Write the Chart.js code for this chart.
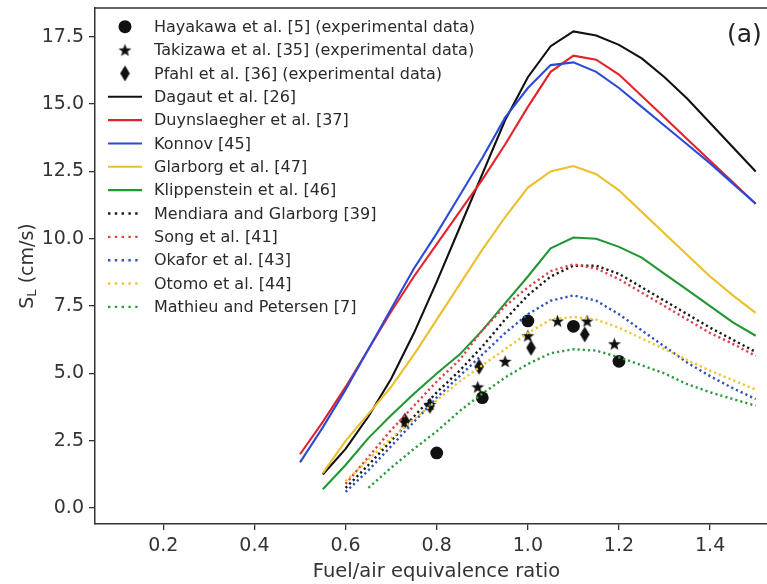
<!DOCTYPE html>
<html>
<head>
<meta charset="utf-8">
<script src="https://cdn.jsdelivr.net/npm/chart.js@4/dist/chart.umd.min.js"></script>
<style>
  html, body { margin: 0; padding: 0; background: #fff; overflow: hidden; width: 767px; height: 584px; }
  #wrap { width: 786px; height: 584px; }
  canvas { display: block; }
</style>
</head>
<body>
<div id="wrap"><canvas id="chart" width="786" height="584"></canvas></div>
<script>
// equivalence ratio grid for the model curves
var phi = [0.5, 0.55, 0.6, 0.65, 0.7, 0.75, 0.8, 0.85, 0.9, 0.95, 1.0, 1.05, 1.1, 1.15, 1.2, 1.25, 1.3, 1.35, 1.4, 1.45, 1.5];

// solid model curves (S_L in cm/s)
var dagaut      = [null, 1.25, 2.2, 3.4, 4.8, 6.5, 8.4, 10.4, 12.4, 14.4, 16.0, 17.15, 17.7, 17.55, 17.2, 16.7, 16.0, 15.2, 14.3, 13.4, 12.5];
var duynslaegher = [2.0, 3.2, 4.5, 5.9, 7.3, 8.6, 9.8, 11.0, 12.2, 13.5, 14.9, 16.2, 16.8, 16.65, 16.1, 15.3, 14.5, 13.7, 12.9, 12.1, 11.3];
var konnov      = [1.7, 3.0, 4.4, 5.9, 7.4, 8.9, 10.2, 11.6, 13.0, 14.5, 15.6, 16.45, 16.55, 16.2, 15.6, 14.9, 14.2, 13.5, 12.8, 12.05, 11.3];
var glarborg    = [null, 1.3, 2.5, 3.5, 4.5, 5.7, 7.0, 8.3, 9.6, 10.8, 11.9, 12.5, 12.7, 12.4, 11.8, 11.0, 10.2, 9.4, 8.6, 7.9, 7.25];
var klippenstein = [null, 0.7, 1.6, 2.6, 3.45, 4.25, 5.0, 5.7, 6.6, 7.6, 8.6, 9.65, 10.05, 10.0, 9.7, 9.3, 8.7, 8.1, 7.5, 6.9, 6.4];

// dotted model curves
var mendiara = [null, null, 0.75, 1.6, 2.5, 3.4, 4.3, 5.1, 6.0, 7.0, 7.9, 8.6, 9.0, 9.0, 8.7, 8.2, 7.7, 7.2, 6.7, 6.25, 5.8];
var song     = [null, null, 0.9, 1.9, 2.9, 3.8, 4.7, 5.5, 6.6, 7.5, 8.2, 8.8, 9.05, 8.9, 8.5, 8.0, 7.5, 7.0, 6.5, 6.1, 5.65];
var okafor   = [null, null, 0.6, 1.4, 2.3, 3.2, 4.1, 4.9, 5.7, 6.5, 7.2, 7.7, 7.9, 7.7, 7.2, 6.6, 6.0, 5.4, 4.9, 4.45, 4.05];
var otomo    = [null, null, 1.0, 1.8, 2.6, 3.3, 4.0, 4.7, 5.3, 5.9, 6.5, 7.0, 7.1, 7.0, 6.7, 6.3, 5.9, 5.5, 5.1, 4.75, 4.4];
var mathieu  = [null, null, null, 0.75, 1.5, 2.2, 2.85, 3.6, 4.25, 4.85, 5.35, 5.75, 5.9, 5.85, 5.6, 5.3, 5.0, 4.6, 4.3, 4.05, 3.8];

// experimental data
var hayakawaX = [0.8, 0.9, 1.0, 1.1, 1.2];
var hayakawaY = [2.05, 4.1, 6.95, 6.75, 5.45];
var takizawaX = [0.73, 0.785, 0.89, 0.95, 1.0, 1.065, 1.13, 1.19];
var takizawaY = [3.2, 3.85, 4.5, 5.45, 6.4, 6.95, 6.95, 6.1];
var pfahlX = [0.73, 0.785, 0.893, 1.007, 1.125];
var pfahlY = [3.25, 3.8, 5.25, 5.95, 6.45];

var xTicks = [0.2, 0.4, 0.6, 0.8, 1.0, 1.2, 1.4];
var yTicks = [0.0, 2.5, 5.0, 7.5, 10.0, 12.5, 15.0, 17.5];

function toPoints(xs, ys) {
    var out = [];
    for (var i = 0; i < xs.length; i++) {
        if (ys[i] !== null) out.push({x: xs[i], y: ys[i]});
    }
    return out;
}

// filled star and thin diamond markers (matplotlib '*' and 'd')
function makeStar() {
    var c = document.createElement('canvas');
    c.width = 15; c.height = 15;
    var g = c.getContext('2d');
    g.fillStyle = '#111';
    g.beginPath();
    for (var k = 0; k < 10; k++) {
        var r = (k % 2 === 0) ? 6.8 : 2.8;
        var a = -Math.PI / 2 + k * Math.PI / 5;
        var px = 7.5 + r * Math.cos(a), py = 8.1 + r * Math.sin(a);
        if (k === 0) g.moveTo(px, py); else g.lineTo(px, py);
    }
    g.closePath();
    g.fill();
    return c;
}
function makeDiamond() {
    var c = document.createElement('canvas');
    c.width = 11; c.height = 17;
    var g = c.getContext('2d');
    g.fillStyle = '#111';
    g.beginPath();
    g.moveTo(5.5, 0.5); g.lineTo(10.3, 8.5); g.lineTo(5.5, 16.5); g.lineTo(0.7, 8.5);
    g.closePath();
    g.fill();
    return c;
}
var starImg = makeStar();
var diamondImg = makeDiamond();

var DOT = [2.2, 3.0];

function lineSet(label, ys, color, dotted, order) {
    return {
        label: label,
        data: toPoints(phi, ys),
        showLine: true,
        borderColor: color,
        backgroundColor: color,
        borderWidth: dotted ? 2.4 : 2.1,
        borderDash: dotted ? DOT : [],
        pointRadius: 0,
        pointHoverRadius: 0,
        tension: 0,
        order: order,
        legendKind: dotted ? 'dot' : 'line'
    };
}
function markerSet(label, xs, ys, style, radius) {
    return {
        label: label,
        data: toPoints(xs, ys),
        showLine: false,
        pointStyle: style,
        pointRadius: radius,
        backgroundColor: '#111',
        borderColor: '#111',
        borderWidth: 0,
        order: 100,
        legendKind: 'marker'
    };
}

var datasets = [
    markerSet('Hayakawa et al. [5] (experimental data)', hayakawaX, hayakawaY, 'circle', 6.4),
    markerSet('Takizawa et al. [35] (experimental data)', takizawaX, takizawaY, starImg, 7),
    markerSet('Pfahl et al. [36] (experimental data)', pfahlX, pfahlY, diamondImg, 8),
    lineSet('Dagaut et al. [26]', dagaut, '#111111', false, 50),
    lineSet('Duynslaegher et al. [37]', duynslaegher, '#e4212c', false, 49),
    lineSet('Konnov [45]', konnov, '#2b4bd6', false, 48),
    lineSet('Glarborg et al. [47]', glarborg, '#ecbf2c', false, 47),
    lineSet('Klippenstein et al. [46]', klippenstein, '#239634', false, 46),
    lineSet('Mendiara and Glarborg [39]', mendiara, '#1a1a1a', true, 45),
    lineSet('Song et al. [41]', song, '#e0404a', true, 44),
    lineSet('Okafor et al. [43]', okafor, '#3050c0', true, 43),
    lineSet('Otomo et al. [44]', otomo, '#f0c430', true, 42),
    lineSet('Mathieu and Petersen [7]', mathieu, '#2e9a40', true, 41)
];

var FONT = '"DejaVu Sans", Verdana, sans-serif';

var decorPlugin = {
    id: 'decor',
    afterDraw: function (chart) {
        var ctx = chart.ctx;
        var a = chart.chartArea;
        ctx.save();
        // top and right frame
        ctx.strokeStyle = '#333';
        ctx.lineWidth = 1.5;
        ctx.beginPath();
        ctx.moveTo(a.left, a.top);
        ctx.lineTo(a.right, a.top);
        ctx.lineTo(a.right, a.bottom);
        ctx.stroke();

        // legend
        var ds = chart.data.datasets;
        var y0 = 26.7, dy = 23.35;
        for (var i = 0; i < ds.length; i++) {
            var d = ds[i];
            var y = y0 + i * dy;
            if (d.legendKind === 'marker') {
                if (d.pointStyle === 'circle') {
                    ctx.fillStyle = '#111';
                    ctx.beginPath();
                    ctx.arc(125, y, 6.5, 0, Math.PI * 2);
                    ctx.fill();
                } else {
                    var im = d.pointStyle;
                    ctx.drawImage(im, 125 - im.width / 2, y - im.height / 2);
                }
            } else {
                ctx.strokeStyle = d.borderColor;
                ctx.lineWidth = d.borderWidth;
                ctx.setLineDash(d.legendKind === 'dot' ? [2.4, 4.4] : []);
                ctx.beginPath();
                ctx.moveTo(108, y);
                ctx.lineTo(142, y);
                ctx.stroke();
                ctx.setLineDash([]);
            }
            ctx.fillStyle = '#2a2a2a';
            ctx.font = '16px ' + FONT;
            ctx.textBaseline = 'middle';
            ctx.textAlign = 'left';
            ctx.fillText(d.label, 154, y + 1);
        }

        // panel label
        ctx.fillStyle = '#222';
        ctx.font = '25px ' + FONT;
        ctx.textBaseline = 'alphabetic';
        ctx.fillText('(a)', 727, 42);

        // x axis title
        ctx.fillStyle = '#333';
        ctx.font = '19.5px ' + FONT;
        ctx.textAlign = 'center';
        ctx.textBaseline = 'middle';
        ctx.fillText('Fuel/air equivalence ratio', (a.left + a.right) / 2, 572);

        // y axis title with subscript
        ctx.translate(28, (a.top + a.bottom) / 2);
        ctx.rotate(-Math.PI / 2);
        ctx.textAlign = 'left';
        ctx.textBaseline = 'middle';
        var big = '19px ' + FONT, small = '13px ' + FONT;
        ctx.font = big; var wS = ctx.measureText('S').width;
        ctx.font = small; var wL = ctx.measureText('L').width;
        ctx.font = big; var wR = ctx.measureText(' (cm/s)').width;
        var x = -(wS + wL + wR) / 2;
        ctx.font = big; ctx.fillText('S', x, 0);
        ctx.font = small; ctx.fillText('L', x + wS, 5);
        ctx.font = big; ctx.fillText(' (cm/s)', x + wS + wL, 0);
        ctx.restore();
    }
};

new Chart(document.getElementById('chart'), {
    type: 'scatter',
    data: { datasets: datasets },
    options: {
        responsive: false,
        animation: false,
        events: [],
        layout: { padding: { top: 5, right: 1, left: 0, bottom: 0 } },
        plugins: {
            legend: { display: false },
            tooltip: { enabled: false }
        },
        scales: {
            x: {
                type: 'linear',
                min: 0.05,
                max: 1.549,
                afterFit: function (s) { s.height = 60; s.paddingLeft = 0; s.paddingRight = 0; },
                afterBuildTicks: function (s) { s.ticks = xTicks.map(function (v) { return {value: v}; }); },
                grid: { drawOnChartArea: false, drawTicks: true, tickLength: 6, color: '#333', lineWidth: 1.3 },
                border: { display: true, color: '#333', width: 1.5 },
                ticks: {
                    color: '#333',
                    padding: 5,
                    maxRotation: 0,
                    font: { family: FONT, size: 19 },
                    callback: function (v) { return Number(v).toFixed(1); }
                }
            },
            y: {
                type: 'linear',
                min: -0.59,
                max: 18.57,
                afterFit: function (s) { s.width = 95; s.paddingTop = 0; s.paddingBottom = 0; },
                afterBuildTicks: function (s) { s.ticks = yTicks.map(function (v) { return {value: v}; }); },
                grid: { drawOnChartArea: false, drawTicks: true, tickLength: 6, color: '#333', lineWidth: 1.3 },
                border: { display: true, color: '#333', width: 1.5 },
                ticks: {
                    color: '#333',
                    padding: 5,
                    font: { family: FONT, size: 19 },
                    callback: function (v) { return Number(v).toFixed(1); }
                }
            }
        }
    },
    plugins: [decorPlugin]
});
</script>
</body>
</html>
